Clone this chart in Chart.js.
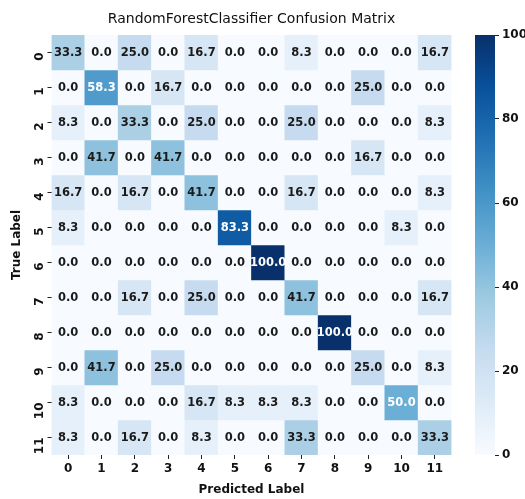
<!DOCTYPE html>
<html>
<head>
<meta charset="utf-8">
<script src="https://cdn.jsdelivr.net/npm/chart.js@4"></script>
<style>
	body { margin: 0; background: #fff; }
	#wrap { position: relative; width: 525px; height: 499px; }
	#wrap canvas { position: absolute; top: 0; }
</style>
</head>
<body>
<div id="wrap">
	<canvas id="heatmap" width="525" height="499" style="left:0"></canvas>
	<canvas id="colorbar" width="95" height="499" style="left:430px"></canvas>
</div>
<script>
// Confusion matrix data (percent of true label)
const chartTitle = "RandomForestClassifier Confusion Matrix";
const predictedLabels = ["0", "1", "2", "3", "4", "5", "6", "7", "8", "9", "10", "11"];
const trueLabels = ["0", "1", "2", "3", "4", "5", "6", "7", "8", "9", "10", "11"];
const row0 = [33.3, 0.0, 25.0, 0.0, 16.7, 0.0, 0.0, 8.3, 0.0, 0.0, 0.0, 16.7];
const row1 = [0.0, 58.3, 0.0, 16.7, 0.0, 0.0, 0.0, 0.0, 0.0, 25.0, 0.0, 0.0];
const row2 = [8.3, 0.0, 33.3, 0.0, 25.0, 0.0, 0.0, 25.0, 0.0, 0.0, 0.0, 8.3];
const row3 = [0.0, 41.7, 0.0, 41.7, 0.0, 0.0, 0.0, 0.0, 0.0, 16.7, 0.0, 0.0];
const row4 = [16.7, 0.0, 16.7, 0.0, 41.7, 0.0, 0.0, 16.7, 0.0, 0.0, 0.0, 8.3];
const row5 = [8.3, 0.0, 0.0, 0.0, 0.0, 83.3, 0.0, 0.0, 0.0, 0.0, 8.3, 0.0];
const row6 = [0.0, 0.0, 0.0, 0.0, 0.0, 0.0, 100.0, 0.0, 0.0, 0.0, 0.0, 0.0];
const row7 = [0.0, 0.0, 16.7, 0.0, 25.0, 0.0, 0.0, 41.7, 0.0, 0.0, 0.0, 16.7];
const row8 = [0.0, 0.0, 0.0, 0.0, 0.0, 0.0, 0.0, 0.0, 100.0, 0.0, 0.0, 0.0];
const row9 = [0.0, 41.7, 0.0, 25.0, 0.0, 0.0, 0.0, 0.0, 0.0, 25.0, 0.0, 8.3];
const row10 = [8.3, 0.0, 0.0, 0.0, 16.7, 8.3, 8.3, 8.3, 0.0, 0.0, 50.0, 0.0];
const row11 = [8.3, 0.0, 16.7, 0.0, 8.3, 0.0, 0.0, 33.3, 0.0, 0.0, 0.0, 33.3];
const matrix = [row0, row1, row2, row3, row4, row5, row6, row7, row8, row9, row10, row11];
const colorbarRange = [0, 100];
const colorbarTicks = [0, 20, 40, 60, 80, 100];

// matplotlib "Blues"
const bluesStops = ["#f7fbff", "#deebf7", "#c6dbef", "#9ecae1", "#6baed6", "#4292c6", "#2171b5", "#08519c", "#08306b"];

function hexToRgb(h) {
	return [parseInt(h.slice(1, 3), 16), parseInt(h.slice(3, 5), 16), parseInt(h.slice(5, 7), 16)];
}

function blues(v) {
	let t = (v - colorbarRange[0]) / (colorbarRange[1] - colorbarRange[0]);
	t = Math.max(0, Math.min(1, t)) * (bluesStops.length - 1);
	const i = Math.min(Math.floor(t), bluesStops.length - 2);
	const f = t - i;
	const a = hexToRgb(bluesStops[i]);
	const b = hexToRgb(bluesStops[i + 1]);
	return a.map((c, k) => Math.round(c + (b[k] - c) * f));
}

function rgbStr(c) {
	return "rgb(" + c.join(",") + ")";
}

// same rule seaborn uses to pick annotation colour
function textColorFor(v) {
	const lum = blues(v).map(c => {
		c = c / 255;
		return c <= 0.03928 ? c / 12.92 : Math.pow((c + 0.055) / 1.055, 2.4);
	});
	const l = 0.2126 * lum[0] + 0.7152 * lum[1] + 0.0722 * lum[2];
	return l > 0.408 ? "#1a1a1a" : "#ffffff";
}

Chart.defaults.font.family = "'DejaVu Sans', sans-serif";
Chart.defaults.color = "#111";

const datasets = matrix.map((rowVals, r) => ({
	label: trueLabels[r],
	data: rowVals.map(() => [r - 0.5, r + 0.5]),
	values: rowVals,
	backgroundColor: rowVals.map(v => rgbStr(blues(v))),
	borderWidth: 0,
	grouped: false,
	barPercentage: 1,
	categoryPercentage: 1,
}));

const cellText = {
	id: "cellText",
	afterDatasetsDraw(chart) {
		const ctx = chart.ctx;
		ctx.save();
		ctx.font = "bold 11.5px 'DejaVu Sans'";
		ctx.textAlign = "center";
		ctx.textBaseline = "middle";
		chart.data.datasets.forEach((ds, di) => {
			chart.getDatasetMeta(di).data.forEach((el, i) => {
				const v = ds.values[i];
				const p = el.getCenterPoint();
				ctx.fillStyle = textColorFor(v);
				ctx.fillText(v.toFixed(1), p.x, p.y + 1);
			});
		});
		ctx.restore();
	},
};

const centeredTitle = {
	id: "centeredTitle",
	afterDraw(chart) {
		const ctx = chart.ctx;
		const a = chart.chartArea;
		ctx.save();
		ctx.font = "14px 'DejaVu Sans'";
		ctx.fillStyle = "#111";
		ctx.textAlign = "center";
		ctx.textBaseline = "middle";
		ctx.fillText(chartTitle, (a.left + a.right) / 2, 19);
		ctx.restore();
	},
};

new Chart(document.getElementById("heatmap"), {
	type: "bar",
	data: { labels: predictedLabels, datasets: datasets },
	options: {
		responsive: false,
		animation: false,
		devicePixelRatio: 1,
		layout: { padding: { left: 0, right: 73.5, top: 35, bottom: 0 } },
		plugins: { legend: { display: false }, tooltip: { enabled: false } },
		scales: {
			x: {
				type: "category",
				offset: true,
				grid: { offset: false, drawOnChartArea: false, tickLength: 4, color: "#222" },
				border: { display: false },
				ticks: { font: { size: 12, weight: "bold" }, padding: 3, maxRotation: 0 },
				title: { display: true, text: "Predicted Label", font: { size: 12, weight: "bold" }, padding: { top: 0, bottom: 2 } },
				afterFit: s => { s.height = 44; },
			},
			y: {
				type: "linear",
				min: -0.5,
				max: 11.5,
				reverse: true,
				afterBuildTicks: s => { s.ticks = trueLabels.map((_, i) => ({ value: i })); },
				grid: { drawOnChartArea: false, tickLength: 4, color: "#222" },
				border: { display: false },
				ticks: { font: { size: 12, weight: "bold" }, padding: 8, minRotation: 90, maxRotation: 90, callback: v => trueLabels[v] },
				title: { display: true, text: "True Label", font: { size: 12, weight: "bold" }, padding: { top: 10, bottom: 0 } },
				afterFit: s => { s.width = 51.5; },
			},
		},
	},
	plugins: [cellText, centeredTitle],
});

// colour bar
new Chart(document.getElementById("colorbar"), {
	type: "bar",
	data: {
		labels: [""],
		datasets: [{
			data: [colorbarRange],
			borderWidth: 0,
			barPercentage: 1,
			categoryPercentage: 1,
			backgroundColor: ctx => {
				const area = ctx.chart.chartArea;
				if (!area) return bluesStops[0];
				const g = ctx.chart.ctx.createLinearGradient(0, area.bottom, 0, area.top);
				bluesStops.forEach((c, i) => g.addColorStop(i / (bluesStops.length - 1), c));
				return g;
			},
		}],
	},
	options: {
		responsive: false,
		animation: false,
		devicePixelRatio: 1,
		layout: { padding: { left: 45, right: 0, top: 35, bottom: 44 } },
		plugins: { legend: { display: false }, tooltip: { enabled: false } },
		scales: {
			x: { display: false },
			y: {
				position: "right",
				min: colorbarRange[0],
				max: colorbarRange[1],
				afterBuildTicks: s => { s.ticks = colorbarTicks.map(v => ({ value: v })); },
				grid: { drawOnChartArea: false, tickLength: 4, color: "#222" },
				border: { display: false },
				ticks: { font: { size: 12, weight: "bold" }, padding: 3 },
				afterFit: s => { s.width = 30; },
			},
		},
	},
});
</script>
</body>
</html>
